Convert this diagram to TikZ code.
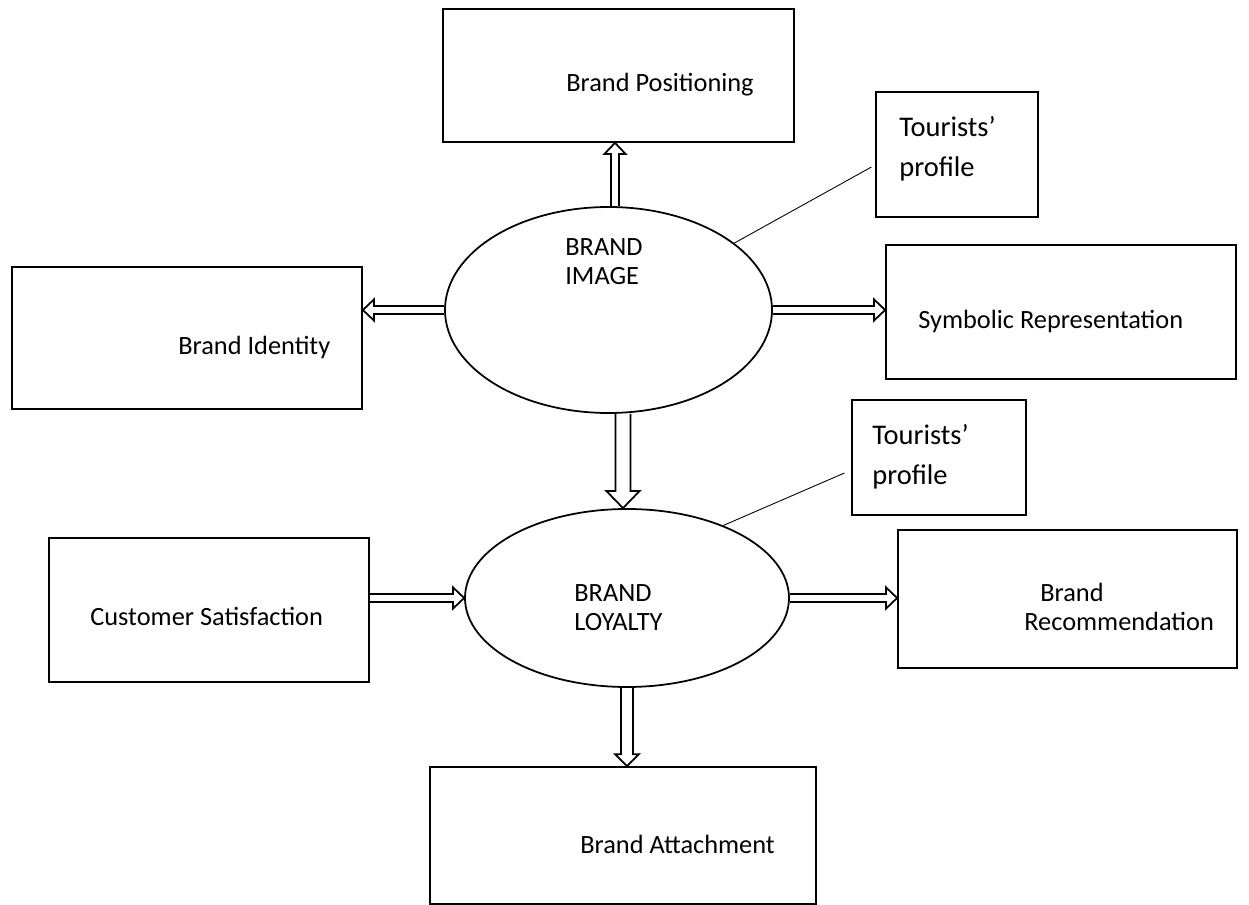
\documentclass[tikz,border=0pt]{standalone}
\usepackage{fontspec}
\setmainfont{Carlito}
\usetikzlibrary{shapes.geometric,calc}

\begin{document}
\begin{tikzpicture}
        [x=0.02cm,y=-0.02cm,
        b/.style 2 args={draw,line width=1pt,minimum width=#1*0.02cm,minimum height=#2*0.02cm,inner sep=0pt},
        tb/.style 2 args={draw,line width=0.6pt,minimum width=#1*0.02cm,minimum height=#2*0.02cm,inner sep=0pt},
        e/.style 2 args={ellipse,draw,line width=1pt,minimum width=#1*0.02cm,minimum height=#2*0.02cm,inner sep=0pt},
        l/.style={anchor=base west,inner sep=0pt,align=left,font=\fontsize{15}{17}\selectfont},
        tl/.style={l,font=\fontsize{16.2}{23.3}\selectfont},
        h/.style n args={3}{line width=1pt,to path={
          let \p1=(\tikztostart), \p2=(\tikztotarget), \n1={atan2(\y2-\y1,\x2-\x1)} in
          ($(\p1)+({\n1+90}:#1)$) -- ($(\p2)+({\n1+180}:#3)+({\n1+90}:#1)$)
          -- ($(\p2)+({\n1+180}:#3)+({\n1+90}:#2)$) -- (\p2)
          -- ($(\p2)+({\n1+180}:#3)+({\n1-90}:#2)$) -- ($(\p2)+({\n1+180}:#3)+({\n1-90}:#1)$)
          -- ($(\p1)+({\n1-90}:#1)$)}},
        ln/.style={line width=0.5pt}]
        \useasboundingbox (0,0) rectangle (1249,905);
        \node[b={351}{133}](pos) at (618.5,75.5){};
        \node[l](postx) at (566,92){Brand Positioning};
        \node[tb={162}{125}](t1) at (957,154.5){};
        \node[tl](t1tx) at (899,177){Tourists'\\profile};
        \node[b={350}{142}](id) at (187,338){};
        \node[l](idtx) at (178,355){Brand Identity};
        \node[e={327}{206}](img) at (608.5,310){};
        \node[l](imgtx) at (565,285){BRAND\\IMAGE};
        \node[b={350}{134}](sym) at (1061,312){};
        \node[l](symtx) at (918,329){Symbolic Representation};
        \node[tb={174}{115}](t2) at (939,457.5){};
        \node[tl](t2tx) at (872,485){Tourists'\\profile};
        \node[e={324}{178}](loy) at (627,598){};
        \node[l](loytx) at (574,631){BRAND\\LOYALTY};
        \node[b={320}{144}](cus) at (209,610){};
        \node[l](custx) at (90,626){Customer Satisfaction};
        \node[b={339}{138}](rec) at (1067.5,599){};
        \node[l](rectx) at (1024,631){\hspace*{9.1pt}Brand\\Recommendation};
        \node[b={386}{137}](att) at (623,835.5){};
        \node[l](atttx) at (580,853){Brand Attachment};
        \draw[h={2.3pt}{6pt}{6.3pt}] (img.north -| 615,0) to (pos.south -| 615,0);
        \draw[h={2.3pt}{6pt}{6.3pt}] (img.west) to (id.east |- img.west);
        \draw[h={2.3pt}{6pt}{6.3pt}] (img.east) to (sym.west |- img.east);
        \draw[h={4.3pt}{9.4pt}{9.7pt}] (img.south -| 623,0) to (loy.north -| 623,0);
        \draw[h={2.3pt}{6pt}{6.3pt}] (cus.east |- loy.west) to (loy.west);
        \draw[h={2.3pt}{6pt}{6.3pt}] (loy.east) to (rec.west |- loy.east);
        \draw[h={3.4pt}{6.8pt}{6.8pt}] (loy.south) to (att.north -| loy.south);
        \draw[ln] ([xshift=-0.08cm,yshift=-0.25cm]t1.west) -- (img.28);
        \draw[ln] ([xshift=-0.14cm,yshift=-0.31cm]t2.west) -- (loy.37);
\end{tikzpicture}
\end{document}
